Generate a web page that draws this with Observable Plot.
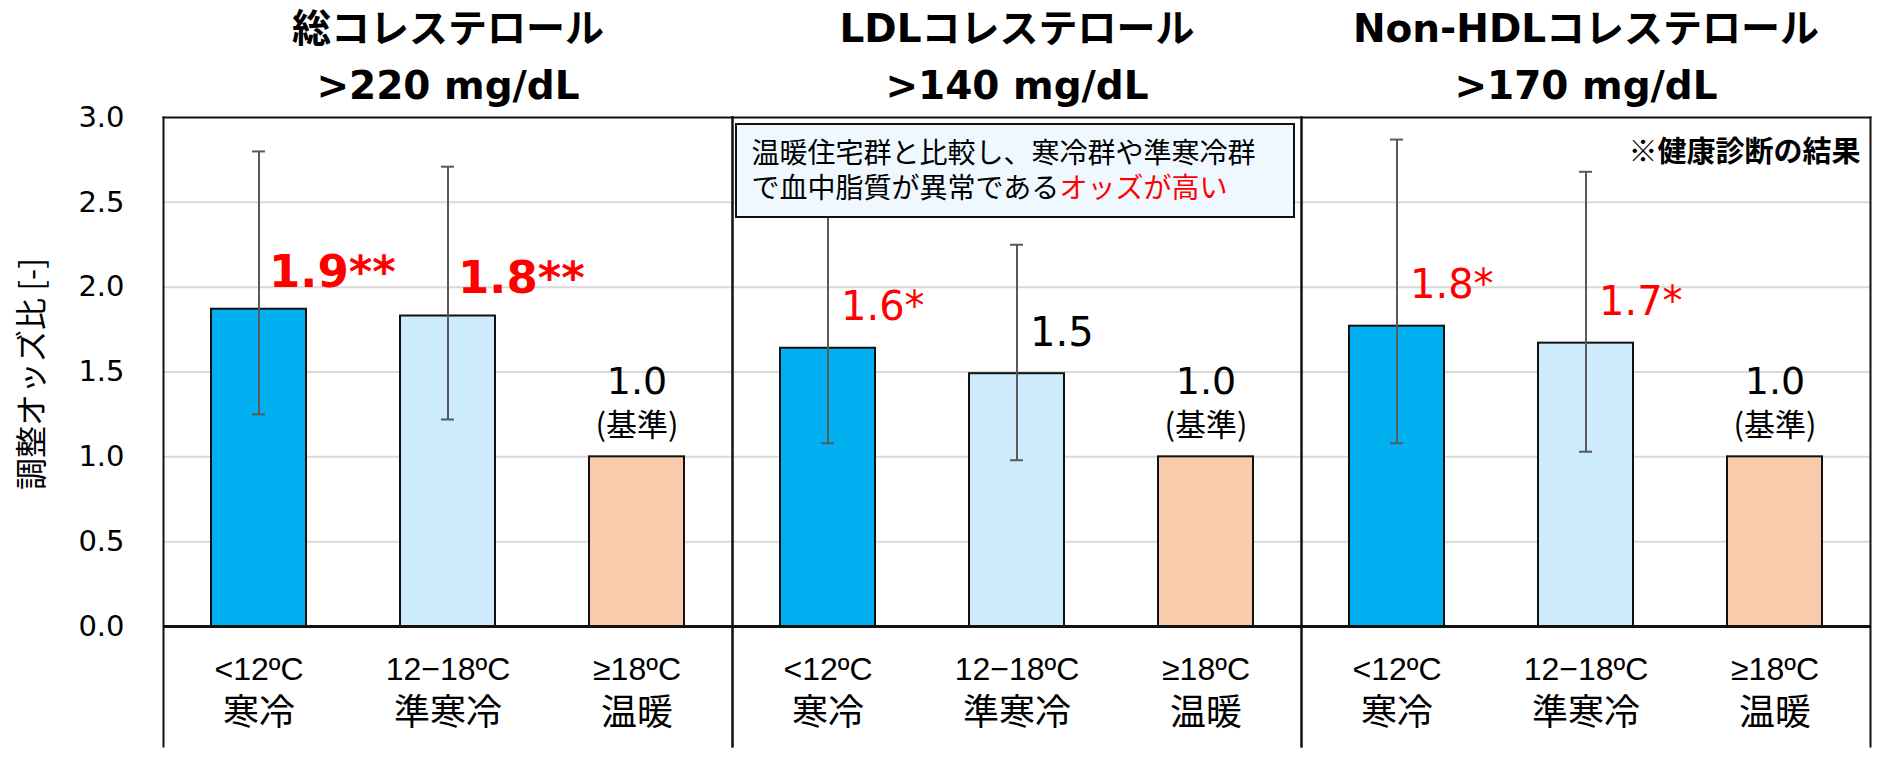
<!DOCTYPE html>
<html>
<head>
<meta charset="utf-8">
<script src="https://cdn.jsdelivr.net/npm/d3@7"></script>
<script src="https://cdn.jsdelivr.net/npm/@observablehq/plot@0.6"></script>
<style>
  html, body { margin: 0; padding: 0; background: #ffffff; }
  #chart svg { display: block; }
</style>
</head>
<body>
<div id="chart"></div>
<script>
// ---------- data ----------
const panels = ["総コレステロール", "LDLコレステロール", "Non-HDLコレステロール"];
const thresholds = [">220 mg/dL", ">140 mg/dL", ">170 mg/dL"];
const categories = ["<12ºC", "12−18ºC", "≥18ºC"];
const categoryNames = ["寒冷", "準寒冷", "温暖"];
// adjusted odds ratio per panel (rows) and category (columns)
const oddsRatio = [
  [1.87, 1.83, 1.00],
  [1.64, 1.49, 1.00],
  [1.77, 1.67, 1.00]
];
// 95% CI lower / upper (reference group has none)
const ciLower = [
  [1.25, 1.22, null],
  [1.08, 0.98, null],
  [1.08, 1.03, null]
];
const ciUpper = [
  [2.80, 2.71, null],
  [2.52, 2.25, null],
  [2.87, 2.68, null]
];
const valueLabels = [
  ["1.9**", "1.8**", "1.0"],
  ["1.6*", "1.5", "1.0"],
  ["1.8*", "1.7*", "1.0"]
];
const yTicks = [0, 0.5, 1.0, 1.5, 2.0, 2.5, 3.0];
const yLabel = "調整オッズ比 [-]";
const baseNote = "(基準)";
const boxLine1 = "温暖住宅群と比較し、寒冷群や準寒冷群";
const boxLine2a = "で血中脂質が異常である";
const boxLine2b = "オッズが高い";
const sourceNote = "※健康診断の結果";

// ---------- styling ----------
const barColors = ["#00b0f0", "#cdebfd", "#f8cbad"];
const red = "#ff0000";
const fontCJK = '"Noto Sans CJK JP", sans-serif';
const fontTitle = '"DejaVu Sans", "Noto Sans CJK JP", sans-serif';
const fontNum = '"DejaVu Sans", sans-serif';
const fontTick = '"Liberation Sans", Arial, sans-serif';

const rows = panels.flatMap((p, i) => categories.map((c, j) => ({
  panel: p, cat: c, name: categoryNames[j],
  odds: oddsRatio[i][j], lo: ciLower[i][j], hi: ciUpper[i][j],
  label: valueLabels[i][j], color: barColors[j]
})));
const ciRows = rows.filter(d => d.lo != null);
const refRows = rows.filter(d => d.lo == null);

const chart = Plot.plot({
  width: 1877,
  height: 772,
  marginTop: 117,
  marginBottom: 146,
  marginLeft: 162,
  marginRight: 6,
  style: {fontFamily: fontCJK, background: "#ffffff", color: "#000000"},
  fx: {domain: panels, padding: 0, axis: null},
  x: {domain: categories, paddingInner: 0.5, paddingOuter: 0.25, axis: null},
  y: {domain: [0, 3], axis: null},
  color: {type: "identity"},
  marks: [
    Plot.gridY([0.5, 1.0, 1.5, 2.0, 2.5], {stroke: "#d9d9d9", strokeOpacity: 1, strokeWidth: 2}),
    Plot.barY(rows, {fx: "panel", x: "cat", y: "odds", fill: "color", stroke: "#111111", strokeWidth: 2}),
    Plot.ruleY([0], {stroke: "#111111", strokeWidth: 3}),
    // error bars
    Plot.ruleX(ciRows, {fx: "panel", x: "cat", y1: "lo", y2: "hi", stroke: "#595959", strokeWidth: 2}),
    Plot.tickY(ciRows, {fx: "panel", x: "cat", y: "hi", stroke: "#595959", strokeWidth: 2, insetLeft: 41, insetRight: 41}),
    Plot.tickY(ciRows, {fx: "panel", x: "cat", y: "lo", stroke: "#595959", strokeWidth: 2, insetLeft: 41, insetRight: 41}),
    // value labels (bold in first panel)
    Plot.text(ciRows.filter(d => d.panel === panels[0]), {
      fx: "panel", x: "cat", y: "odds", text: "label",
      textAnchor: "start", dx: 10, dy: -37, lineAnchor: "middle",
      fill: d => d.label.includes("*") ? red : "#000000",
      fontSize: 45, fontWeight: "bold", fontFamily: fontNum
    }),
    Plot.text(ciRows.filter(d => d.panel !== panels[0]), {
      fx: "panel", x: "cat", y: "odds", text: "label",
      textAnchor: "start", dx: 13, dy: -41, lineAnchor: "middle",
      fill: d => d.label.includes("*") ? red : "#000000",
      fontSize: 40, fontFamily: fontNum
    }),
    Plot.text(refRows, {
      fx: "panel", x: "cat", y: "odds", text: "label",
      dy: -75, lineAnchor: "middle", fill: "#000000", fontSize: 38, fontFamily: fontNum
    }),
    Plot.text(refRows, {
      fx: "panel", x: "cat", y: "odds", text: () => baseNote,
      dy: -31, lineAnchor: "middle", fill: "#000000", fontSize: 31, fontFamily: fontCJK
    }),
    // annotation box in LDL panel
    Plot.rect([0], {
      fx: () => panels[1], insetLeft: 4, insetRight: 7, insetTop: 7, insetBottom: 409,
      fill: "#f0f8ff", stroke: "#111111", strokeWidth: 2
    }),
    Plot.text([boxLine1], {
      fx: () => panels[1], text: d => d, frameAnchor: "top-left", textAnchor: "start",
      lineAnchor: "middle", dx: 19, dy: 37, fontSize: 28, fontFamily: fontCJK, fill: "#000000"
    }),
    Plot.text([boxLine2a], {
      fx: () => panels[1], text: d => d, frameAnchor: "top-left", textAnchor: "start",
      lineAnchor: "middle", dx: 19, dy: 72, fontSize: 28, fontFamily: fontCJK, fill: "#000000"
    }),
    Plot.text([boxLine2b], {
      fx: () => panels[1], text: d => d, frameAnchor: "top-left", textAnchor: "start",
      lineAnchor: "middle", dx: 19 + 28 * boxLine2a.length, dy: 72, fontSize: 28, fontFamily: fontCJK, fill: red
    }),
    // source note in last panel
    Plot.text([sourceNote], {
      fx: () => panels[2], text: d => d, frameAnchor: "top-right", textAnchor: "end",
      lineAnchor: "middle", dx: -10, dy: 35, fontSize: 29, fontWeight: "bold", fontFamily: fontCJK, fill: "#000000"
    }),
    // frame lines
    Plot.frame({anchor: "top", stroke: "#111111", strokeWidth: 2}),
    Plot.frame({anchor: "left", stroke: "#111111", strokeWidth: 2, insetBottom: -120}),
    Plot.frame({anchor: "right", stroke: "#111111", strokeWidth: 2, insetBottom: -120}),
    // panel titles
    Plot.text(panels, {
      fx: d => d, text: d => d, frameAnchor: "top", lineAnchor: "middle", dy: -88,
      fontSize: 39, fontWeight: "bold", fontFamily: fontTitle, fill: "#000000"
    }),
    Plot.text(thresholds, {
      fx: (d, i) => panels[i], text: d => d, frameAnchor: "top", lineAnchor: "middle", dy: -31,
      fontSize: 39, fontWeight: "bold", fontFamily: fontTitle, fill: "#000000"
    }),
    // x tick labels (two lines)
    Plot.text(rows, {
      fx: "panel", x: "cat", text: "cat", frameAnchor: "bottom", lineAnchor: "middle", dy: 43,
      fontSize: 32, fontFamily: fontTick, fill: "#000000"
    }),
    Plot.text(rows, {
      fx: "panel", x: "cat", text: "name", frameAnchor: "bottom", lineAnchor: "middle", dy: 87,
      fontSize: 36, fontFamily: fontCJK, fill: "#000000"
    }),
    // y tick labels
    Plot.text(yTicks, {
      fx: () => panels[0], y: d => d, text: d => d.toFixed(1), frameAnchor: "left",
      textAnchor: "end", lineAnchor: "middle", dx: -39, fontSize: 29, fontFamily: fontNum, fill: "#000000"
    }),
    // y axis label
    Plot.text([yLabel], {
      fx: () => panels[0], text: d => d, frameAnchor: "left", textAnchor: "middle",
      lineAnchor: "middle", rotate: -90, dx: -131, dy: 2, fontSize: 32, fontFamily: fontCJK, fill: "#000000"
    })
  ]
});
document.getElementById("chart").append(chart);
</script>
</body>
</html>
